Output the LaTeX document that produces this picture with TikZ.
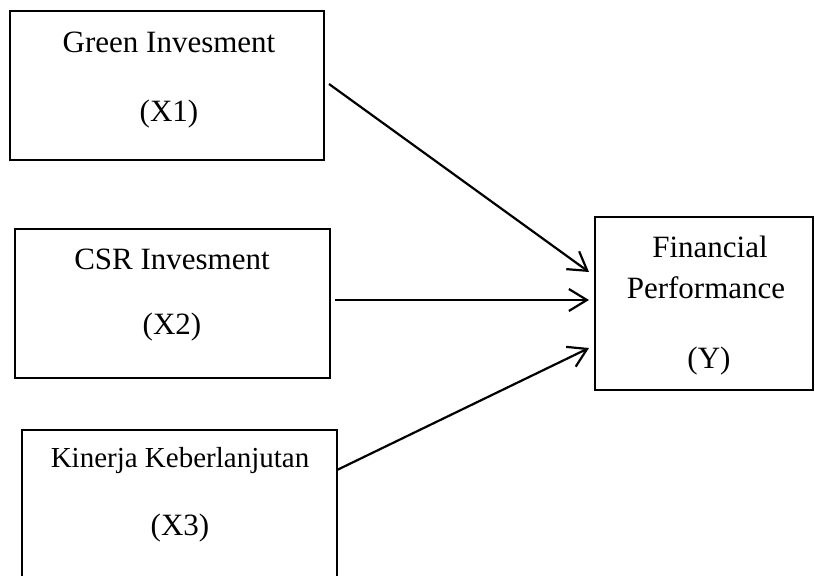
\documentclass[tikz,border=0pt]{standalone}
\usepackage{fontspec}
\setmainfont{Liberation Serif}
\usetikzlibrary{arrows.meta}
\begin{document}
\begin{tikzpicture}[x=1pt,y=-1pt,
  boxnode/.style={draw,line width=2pt,inner sep=0pt,rectangle},
  lbl/.style={anchor=base,inner sep=0pt,font=\fontsize{31}{36}\selectfont},
  lblsmall/.style={anchor=base,inner sep=0pt,font=\fontsize{29}{34}\selectfont},
  conn/.style={line width=2.2pt,-{Straight Barb[length=18pt,width=22pt,line width=2.2pt]}}]
\clip (0,0) rectangle (815,576);
\fill[white] (0,0) rectangle (815,576);
% boxes
\node[boxnode,minimum width=314pt,minimum height=149pt] (b1) at (167,85.5) {};
\node[boxnode,minimum width=315pt,minimum height=149pt] (b2) at (172.5,303.5) {};
\node[boxnode,minimum width=315pt,minimum height=149pt] (b3) at (179.5,504.5) {};
\node[boxnode,minimum width=218pt,minimum height=173pt] (yb) at (704,303.5) {};
% labels
\node[lbl] (t1a) at (169,52) {Green Invesment};
\node[lbl] (t1b) at (169,121) {(X1)};
\node[lbl] (t2a) at (172,269) {CSR Invesment};
\node[lbl] (t2b) at (172,334) {(X2)};
\node[lblsmall] (t3a) at (180,467) {Kinerja Keberlanjutan};
\node[lbl] (t3b) at (180,535) {(X3)};
\node[lbl] (tya) at (710,257) {Financial};
\node[lbl] (tyb) at (706,298) {Performance};
\node[lbl] (tyc) at (709,368) {(Y)};
% connector ends
\coordinate (s1) at (329,84);
\coordinate (s2) at (335,300);
\coordinate (s3) at (337,470);
\coordinate (e1) at (589,272);
\coordinate (e2) at (589,300);
\coordinate (e3) at (589,348);
\draw[conn] (s1) -- (e1);
\draw[conn] (s2) -- (e2);
\draw[conn] (s3) -- (e3);
\end{tikzpicture}
\end{document}
